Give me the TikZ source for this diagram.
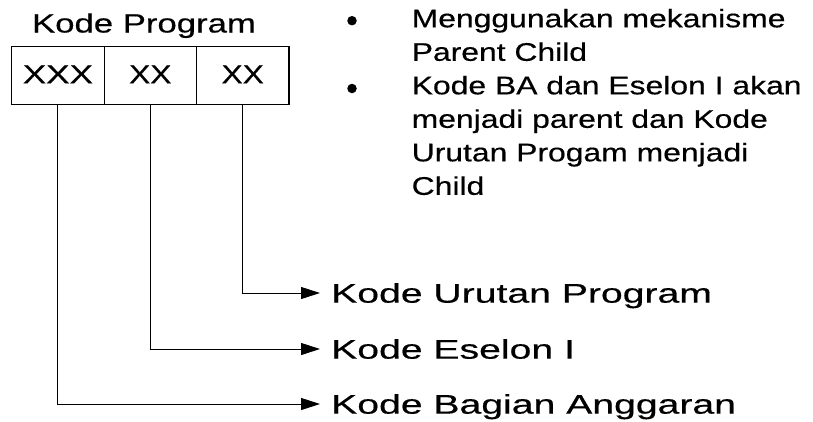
\documentclass[tikz,border=0pt]{standalone}
\usepackage{fontspec}
\setmainfont{Liberation Sans}[FakeBold=0.4]
\usetikzlibrary{arrows.meta}
% horizontally widened text
\newcommand\wide[2][1.25]{\scalebox{#1}[1]{#2}}
\begin{document}
\begin{tikzpicture}[x=1pt,y=-1pt,
  codecell/.style={draw, line width=1.2pt, minimum width=92.4pt, minimum height=57.4pt,
    inner sep=0pt, font=\fontsize{26}{30}\selectfont},
  codelabel/.style={anchor=west, inner sep=0pt, text height=19.3pt, text depth=0pt,
    font=\fontsize{27}{32}\selectfont},
  link/.style={line width=1pt, -{Triangle[length=19pt,width=12pt]}},
  bulletdot/.style={circle, fill, inner sep=0pt, minimum size=9.5pt},
  bullettext/.style={anchor=base west, inner sep=0pt, font=\fontsize{25.5}{33.5}\selectfont}]
\useasboundingbox (0,0) rectangle (813,421);

% title and the three code fields
\node[anchor=base, inner sep=0pt, font=\fontsize{26.5}{31}\selectfont] (title) at (144,32.5) {\wide[1.31]{Kode Program}};
\node[codecell] (ba) at (57.9,75.4) {\raisebox{2pt}{\wide[1.35]{XXX}}};
\node[codecell] (es) at (150.3,75.4) {\raisebox{2pt}{\wide[1.22]{XX}}};
\node[codecell] (ur) at (242.7,75.4) {\raisebox{2pt}{\wide[1.22]{XX}}};

% notes
\node[bulletdot] (d1) at (352,20.7) {};
\node[bullettext] (n1) at (411.5,27.3) {\wide{\begin{tabular}[t]{@{}l@{}}Menggunakan mekanisme\\Parent Child\end{tabular}}};
\node[bulletdot] (d2) at (352,88.5) {};
\node[bullettext] (n2) at (411.5,94.3) {\wide{\begin{tabular}[t]{@{}l@{}}Kode BA dan Eselon I akan\\menjadi parent dan Kode\\Urutan Progam menjadi\\Child\end{tabular}}};

% field descriptions
\node[codelabel] (lur) at (331,293) {\wide[1.45]{Kode Urutan Program}};
\node[codelabel] (les) at (331,349) {\wide[1.45]{Kode Eselon I}};
\node[codelabel] (lba) at (331,404) {\wide[1.45]{Kode Bagian Anggaran}};

\draw[link] (ur.south) |- ([xshift=-11pt]lur.west);
\draw[link] (es.south) |- ([xshift=-11pt]les.west);
\draw[link] (ba.south) |- ([xshift=-11pt]lba.west);
\end{tikzpicture}
\end{document}
